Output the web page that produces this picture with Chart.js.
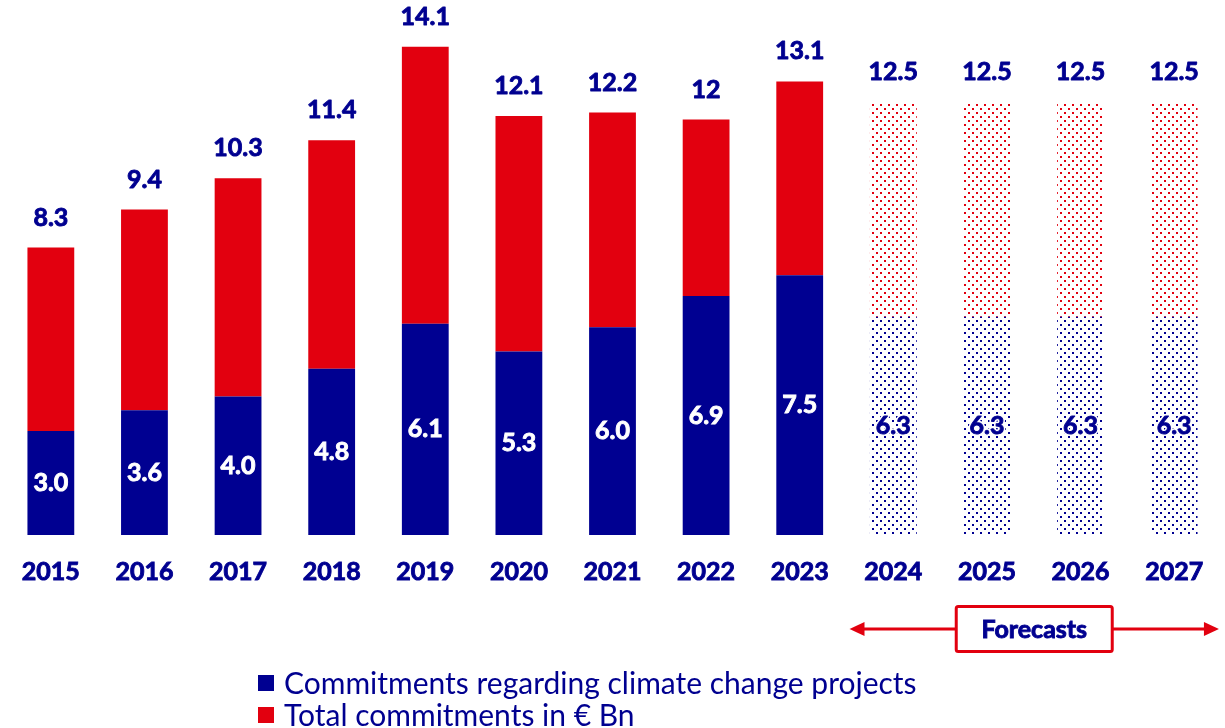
<!DOCTYPE html>
<html>
<head>
<meta charset="utf-8">
<script src="https://cdn.jsdelivr.net/npm/chart.js@4.4.1/dist/chart.umd.min.js"></script>
<style>
  html, body { margin: 0; padding: 0; background: #fff; overflow: hidden; }
  #wrap { width: 1225px; height: 728px; }
</style>
</head>
<body>
<div id="wrap"><canvas id="commitmentsChart" width="1225" height="728"></canvas></div>
<script>
// Commitments per year, € Bn
const years = ['2015', '2016', '2017', '2018', '2019', '2020', '2021', '2022', '2023', '2024', '2025', '2026', '2027'];
const climateValues = [3.0, 3.6, 4.0, 4.8, 6.1, 5.3, 6.0, 6.9, 7.5, 6.3, 6.3, 6.3, 6.3];
const totalValues = [8.3, 9.4, 10.3, 11.4, 14.1, 12.1, 12.2, 12, 13.1, 12.5, 12.5, 12.5, 12.5];
const firstForecastYear = '2024';
const seriesNames = ['Commitments regarding climate change projects', 'Total commitments in € Bn'];

const BLUE = '#000091';
const RED = '#E2000F';
const TEXT = '#000090';

const firstForecast = years.indexOf(firstForecastYear);
// red part sits on top of the blue part, so it only carries the remainder
const otherValues = totalValues.map((t, i) => +(t - climateValues[i]).toFixed(2));

// staggered dot fill for forecast years
function dotPattern(color) {
    const c = document.createElement('canvas');
    c.width = 8;
    c.height = 8;
    const g = c.getContext('2d');
    g.fillStyle = color;
    g.fillRect(0, 0, 2, 2);
    g.fillRect(4, 4, 2, 2);
    return g.createPattern(c, 'repeat');
}
const blueDots = dotPattern(BLUE);
const redDots = dotPattern(RED);

const fillFor = (solid, dots) => years.map((y, i) => i >= firstForecast ? dots : solid);

// fill plus a thin stroke of the same colour, a touch heavier than plain bold
function heavyText(ctx, txt, x, y, color) {
    ctx.fillStyle = color;
    ctx.strokeStyle = color;
    ctx.lineWidth = 0.9;
    ctx.fillText(txt, x, y);
    ctx.strokeText(txt, x, y);
}

const valueLabels = {
    id: 'valueLabels',
    afterDatasetsDraw(chart) {
        const ctx = chart.ctx;
        const climateBars = chart.getDatasetMeta(0).data;
        const otherBars = chart.getDatasetMeta(1).data;
        ctx.save();
        ctx.textAlign = 'center';
        ctx.textBaseline = 'middle';
        ctx.font = 'bold 25px Lato';
        climateBars.forEach((bar, i) => {
            const y = (bar.y + bar.base) / 2;
            const txt = climateValues[i].toFixed(1);
            if (i >= firstForecast) {
                ctx.lineWidth = 4;
                ctx.lineJoin = 'round';
                ctx.strokeStyle = '#fff';
                ctx.strokeText(txt, bar.x, y);
                heavyText(ctx, txt, bar.x, y, TEXT);
            } else {
                heavyText(ctx, txt, bar.x, y, '#fff');
            }
        });
        otherBars.forEach((bar, i) => {
            heavyText(ctx, String(totalValues[i]), bar.x, bar.y - 30, TEXT);
        });
        ctx.restore();
    }
};

const forecastBanner = {
    id: 'forecastBanner',
    afterDraw(chart) {
        const ctx = chart.ctx;
        const x = chart.scales.x;
        const half = (x.getPixelForValue(1) - x.getPixelForValue(0)) / 2;
        const left = x.getPixelForValue(firstForecast) - half + 3;
        const right = x.getPixelForValue(years.length - 1) + half - 2;
        const y = 629;
        ctx.save();
        ctx.strokeStyle = RED;
        ctx.fillStyle = RED;
        ctx.lineWidth = 3;
        ctx.beginPath();
        ctx.moveTo(left + 10, y);
        ctx.lineTo(right - 10, y);
        ctx.stroke();
        // arrow heads
        ctx.beginPath();
        ctx.moveTo(left, y);
        ctx.lineTo(left + 15, y - 7);
        ctx.lineTo(left + 15, y + 7);
        ctx.closePath();
        ctx.fill();
        ctx.beginPath();
        ctx.moveTo(right, y);
        ctx.lineTo(right - 15, y - 7);
        ctx.lineTo(right - 15, y + 7);
        ctx.closePath();
        ctx.fill();
        // label box
        const cx = (left + right) / 2;
        const bw = 156, bh = 45;
        ctx.fillStyle = '#fff';
        ctx.beginPath();
        ctx.roundRect(cx - bw / 2, y - bh / 2, bw, bh, 2);
        ctx.fill();
        ctx.stroke();
        ctx.font = 'bold 25px Lato';
        ctx.textAlign = 'center';
        ctx.textBaseline = 'middle';
        heavyText(ctx, 'Forecasts', cx, y + 1, TEXT);
        ctx.restore();
    }
};

const stackedLegend = {
    id: 'stackedLegend',
    afterDraw(chart) {
        const ctx = chart.ctx;
        const rows = [
            { text: chart.data.datasets[0].label, color: BLUE, y: 683 },
            { text: chart.data.datasets[1].label, color: RED, y: 715 }
        ];
        ctx.save();
        ctx.font = '30px Lato';
        ctx.textBaseline = 'middle';
        rows.forEach(r => {
            ctx.fillStyle = r.color;
            ctx.fillRect(258, r.y - 8, 16, 16);
            ctx.fillStyle = TEXT;
            ctx.fillText(r.text, 284, r.y + 1);
        });
        ctx.restore();
    }
};

new Chart(document.getElementById('commitmentsChart'), {
    type: 'bar',
    data: {
        labels: years,
        datasets: [
            {
                label: seriesNames[0],
                data: climateValues,
                backgroundColor: fillFor(BLUE, blueDots),
                stack: 'all'
            },
            {
                label: seriesNames[1],
                data: otherValues,
                backgroundColor: fillFor(RED, redDots),
                stack: 'all'
            }
        ]
    },
    options: {
        responsive: false,
        animation: false,
        devicePixelRatio: 1,
        layout: { padding: { top: 0, left: 0, right: 0, bottom: 119 } },
        datasets: { bar: { categoryPercentage: 1, barPercentage: 0.5 } },
        scales: {
            x: {
                stacked: true,
                grid: { display: false, drawTicks: false },
                border: { display: false },
                ticks: {
                    color: TEXT,
                    textStrokeColor: TEXT,
                    textStrokeWidth: 0.9,
                    padding: 22,
                    font: { family: 'Lato', weight: 'bold', size: 25 }
                }
            },
            y: {
                stacked: true,
                display: false,
                min: 0,
                max: 15.45
            }
        },
        plugins: {
            legend: { display: false },
            tooltip: { enabled: false }
        }
    },
    plugins: [valueLabels, forecastBanner, stackedLegend]
});
</script>
</body>
</html>
